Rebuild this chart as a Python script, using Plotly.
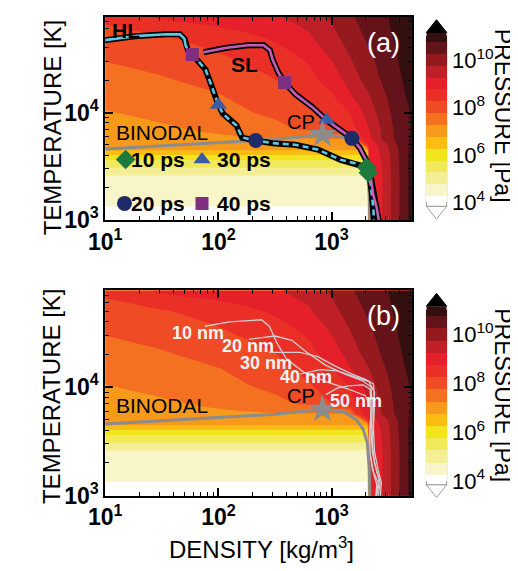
import numpy as np
import plotly.graph_objects as go

W, H = 518, 571
FONT = "Liberation Sans, Arial, Helvetica, sans-serif"

# ---------------- pressure field (log10 P [Pa]) ----------------
LOG_RHO_GRID = [1.0, 1.5, 2.0, 2.5, 2.8, 3.0, 3.15, 3.25, 3.315, 3.335, 3.45, 3.58, 3.71]
LOG_T_GRID = [3.0, 3.126, 3.414, 3.486, 3.559, 3.604, 3.649, 3.70, 3.75, 3.85,
              4.0, 4.15, 4.3, 4.5, 4.7, 4.89]
LOG_P = [
    [4.00, 4.00, 4.00, 4.00, 4.00, 4.00, 4.00, 4.00, 4.00, 8.80, 9.25, 10.12, 10.94],
    [4.25, 4.25, 4.25, 4.25, 4.25, 4.25, 4.25, 4.25, 4.25, 8.80, 9.25, 10.12, 10.94],
    [4.75, 4.75, 4.75, 4.75, 4.75, 4.75, 4.75, 4.75, 4.75, 8.80, 9.25, 10.12, 10.94],
    [5.25, 5.25, 5.25, 5.25, 5.25, 5.25, 5.25, 5.25, 5.25, 8.80, 9.27, 10.14, 10.94],
    [5.75, 5.75, 5.75, 5.75, 5.75, 5.75, 5.75, 5.75, 5.75, 8.82, 9.30, 10.16, 10.94],
    [6.25, 6.25, 6.25, 6.25, 6.25, 6.25, 6.25, 6.25, 6.25, 8.84, 9.33, 10.18, 10.92],
    [6.75, 6.75, 6.75, 6.75, 6.75, 6.75, 6.75, 6.75, 6.75, 8.85, 9.38, 10.20, 10.90],
    [6.90, 6.98, 7.00, 7.00, 7.00, 7.00, 7.00, 7.00, 8.60, 8.90, 9.50, 10.25, 10.88],
    [6.95, 7.05, 7.15, 7.20, 7.20, 7.20, 7.20, 8.60, 8.97, 9.10, 9.80, 10.35, 10.85],
    [7.06, 7.18, 7.35, 7.62, 7.85, 8.23, 8.57, 8.85, 9.18, 9.28, 9.84, 10.40, 10.80],
    [7.22, 7.38, 7.58, 7.85, 8.18, 8.48, 8.73, 9.12, 9.41, 9.50, 10.00, 10.46, 10.80],
    [7.39, 7.55, 7.71, 8.08, 8.39, 8.68, 9.13, 9.47, 9.67, 9.73, 10.14, 10.54, 10.90],
    [7.56, 7.69, 7.93, 8.24, 8.60, 8.96, 9.40, 9.72, 9.89, 9.95, 10.30, 10.64, 10.95],
    [7.78, 7.97, 8.17, 8.51, 8.82, 9.28, 9.69, 9.95, 10.11, 10.16, 10.44, 10.74, 11.00],
    [8.09, 8.21, 8.47, 8.83, 9.19, 9.59, 9.94, 10.18, 10.31, 10.36, 10.56, 10.83, 11.10],
    [8.35, 8.84, 9.02, 9.19, 9.46, 9.82, 10.16, 10.34, 10.45, 10.48, 10.66, 10.90, 11.17],
]

# band colours, centred on log10 P = 4.0, 4.5, ..., 11.0
BAND_COLORS = ["#ffffff", "#f8f5c8", "#f4ef94", "#f1e95a", "#f2e41d", "#fbbd14",
               "#f79a1c", "#f37121", "#ef4b24", "#ea2f27", "#e5202a", "#bf1f26",
               "#951a1e", "#64131a", "#33100f"]
CBAR_TICKS = [4, 6, 8, 10]
CBAR_TEXT = ["10<sup>4</sup>", "10<sup>6</sup>", "10<sup>8</sup>", "10<sup>10</sup>"]

X_TICKS = [1, 2, 3]
X_TEXT = ["10<sup>1</sup>", "10<sup>2</sup>", "10<sup>3</sup>"]
Y_TICKS = [3, 4]
Y_TEXT = ["10<sup>3</sup>", "10<sup>4</sup>"]

# ---------------- panel (a) trajectories (log10 density, log10 temperature) ----------------
HL_SOLID_X = [0.98, 1.26, 1.54, 1.66, 1.70, 1.71, 1.73, 1.77]
HL_SOLID_Y = [4.67, 4.71, 4.727, 4.727, 4.685, 4.625, 4.58, 4.54]
HL_DASH_X = [1.77, 1.83, 1.886, 1.93, 1.97, 2.0, 2.04, 2.10, 2.16, 2.185, 2.21, 2.33,
             2.48, 2.68, 2.88, 3.08, 3.20, 3.28, 3.31, 3.34, 3.355, 3.37, 3.375]
HL_DASH_Y = [4.54, 4.47, 4.40, 4.275, 4.155, 4.07, 3.99, 3.93, 3.88, 3.82, 3.767, 3.74,
             3.715, 3.70, 3.655, 3.56, 3.53, 3.50, 3.48, 3.38, 3.26, 3.11, 2.98]
SL_X = [1.87, 2.06, 2.26, 2.40, 2.455, 2.48, 2.53, 2.585, 2.68, 2.83, 2.955, 3.08,
        3.18, 3.25, 3.31, 3.34, 3.37, 3.40, 3.42]
SL_Y = [4.56, 4.60, 4.625, 4.625, 4.58, 4.49, 4.37, 4.28, 4.17, 4.05, 3.93, 3.84,
        3.76, 3.67, 3.55, 3.44, 3.23, 3.11, 2.98]
BINODAL_X = [1.0, 1.5, 2.0, 2.5, 2.92, 3.11, 3.22, 3.28, 3.316, 3.333, 3.34]
BINODAL_Y = [3.66, 3.69, 3.715, 3.75, 3.795, 3.77, 3.70, 3.61, 3.49, 3.25, 2.98]
CP_X, CP_Y = [2.92], [3.795]

SQ_X, SQ_Y = [1.77, 2.585], [4.54, 4.28]        # 40 ps
TRI_X, TRI_Y = [2.0, 2.955], [4.07, 3.93]       # 30 ps
CIR_X, CIR_Y = [2.33, 3.18], [3.74, 3.76]       # 20 ps
DIA_X, DIA_Y = [3.31, 3.325], [3.49, 3.44]      # 10 ps

# ---------------- panel (b) trajectories ----------------
NM_LINES = {
    "10 nm": ([1.88, 2.10, 2.38, 2.45, 2.52, 2.60, 2.75, 2.95, 3.15, 3.30, 3.35, 3.34, 3.33, 3.36, 3.40, 3.39],
              [4.56, 4.60, 4.62, 4.56, 4.40, 4.26, 4.14, 4.05, 3.98, 3.92, 3.80, 3.62, 3.45, 3.25, 3.10, 2.98]),
    "20 nm": ([2.27, 2.50, 2.65, 2.78, 2.95, 3.12, 3.27, 3.35, 3.36, 3.35, 3.36, 3.40, 3.43, 3.41],
              [4.44, 4.47, 4.43, 4.32, 4.20, 4.12, 4.06, 4.00, 3.80, 3.60, 3.40, 3.22, 3.12, 2.98]),
    "30 nm": ([2.45, 2.72, 2.88, 3.02, 3.18, 3.30, 3.37, 3.38, 3.37, 3.38, 3.42, 3.44, 3.43],
              [4.32, 4.32, 4.28, 4.20, 4.12, 4.07, 4.03, 3.85, 3.62, 3.40, 3.20, 3.12, 2.98]),
    "40 nm": ([2.72, 2.90, 3.05, 3.20, 3.33, 3.38, 3.37, 3.36, 3.38, 3.42, 3.40, 3.40],
              [4.12, 4.16, 4.15, 4.10, 4.05, 3.95, 3.70, 3.50, 3.30, 3.15, 3.05, 2.98]),
    "50 nm": ([2.95, 3.05, 3.15, 3.28, 3.34, 3.35, 3.34, 3.34, 3.37, 3.42, 3.39],
              [3.93, 3.99, 4.01, 4.02, 3.98, 3.80, 3.60, 3.40, 3.22, 3.10, 2.98]),
}
NM_LABEL_POS = {"10 nm": (1.82, 4.50), "20 nm": (2.265, 4.375), "30 nm": (2.42, 4.22),
                "40 nm": (2.77, 4.09), "50 nm": (3.22, 3.87)}

X_RANGE = [1.0, 3.71]
Y_RANGE = [3.0, 4.89]


def px(x):
    return x / W


def py(y):
    return 1 - y / H


colorscale = [[i / (len(BAND_COLORS) - 1), c] for i, c in enumerate(BAND_COLORS)]

fig = go.Figure()

# colour bar geometry (pixels): full band stack top/bottom; built-in bar spans band centres 4..11
CB_X0, CB_X1 = 415, 436
CB_A = (25, 203)
CB_B = (305, 488)


def add_field(xa, ya, cb):
    top, bot = cb
    band = (bot - top) / 15.0
    inner_top, inner_bot = top + band / 2, bot - band / 2
    fig.add_trace(go.Contour(
        x=LOG_RHO_GRID, y=LOG_T_GRID, z=LOG_P, xaxis=xa, yaxis=ya,
        colorscale=colorscale,
        contours=dict(start=4.25, end=10.75, size=0.5, coloring="fill", showlines=False),
        line=dict(width=0),
        hoverinfo="skip",
        colorbar=dict(x=px(CB_X0), xanchor="left", y=py((inner_top + inner_bot) / 2), yanchor="middle",
                      len=inner_bot - inner_top, lenmode="pixels", thickness=CB_X1 - CB_X0,
                      thicknessmode="pixels", xpad=0, ypad=0, outlinewidth=0,
                      tickvals=CBAR_TICKS, ticktext=CBAR_TEXT, ticks="",
                      tickfont=dict(family=FONT, size=22, color="black")),
    ))


add_field("x", "y", CB_A)
add_field("x2", "y2", CB_B)

# ---- panel (a) overlays
fig.add_trace(go.Scatter(x=BINODAL_X, y=BINODAL_Y, mode="lines", xaxis="x", yaxis="y",
                         line=dict(color="#8c8c8c", width=3), hoverinfo="skip", showlegend=False))
for xs, ys in [(HL_SOLID_X, HL_SOLID_Y), (HL_DASH_X, HL_DASH_Y), (SL_X, SL_Y)]:
    fig.add_trace(go.Scatter(x=xs, y=ys, mode="lines", xaxis="x", yaxis="y",
                             line=dict(color="black", width=6), hoverinfo="skip", showlegend=False))
fig.add_trace(go.Scatter(x=HL_SOLID_X, y=HL_SOLID_Y, mode="lines", xaxis="x", yaxis="y",
                         line=dict(color="#5ec8e0", width=2.6), hoverinfo="skip", showlegend=False))
fig.add_trace(go.Scatter(x=HL_DASH_X, y=HL_DASH_Y, mode="lines", xaxis="x", yaxis="y",
                         line=dict(color="#5ec8e0", width=2.6, dash="6px,4px"),
                         hoverinfo="skip", showlegend=False))
fig.add_trace(go.Scatter(x=SL_X, y=SL_Y, mode="lines", xaxis="x", yaxis="y",
                         line=dict(color="#c45cb9", width=2.6), hoverinfo="skip", showlegend=False))

MARK = dict(square=("#7e2f82", 13), triangle=("#3a5ba8", 15), circle=("#1f2a6b", 15),
            diamond=("#1b7a3c", 15))
for sym, xs, ys in [("square", SQ_X, SQ_Y), ("triangle-up", TRI_X, TRI_Y),
                    ("circle", CIR_X, CIR_Y), ("diamond", DIA_X, DIA_Y)]:
    col, size = MARK[sym.split("-")[0]]
    fig.add_trace(go.Scatter(x=xs, y=ys, mode="markers", xaxis="x", yaxis="y",
                             marker=dict(symbol=sym, color=col, size=size, line=dict(width=0)),
                             hoverinfo="skip", showlegend=False))
fig.add_trace(go.Scatter(x=CP_X, y=CP_Y, mode="markers", xaxis="x", yaxis="y",
                         marker=dict(symbol="star", color="#8c8c8c", size=21, line=dict(width=0)),
                         hoverinfo="skip", showlegend=False))

# legend markers inside panel (a)
LEG_X = [1.18, 1.855, 1.17, 1.855]
LEG_Y = [3.564, 3.564, 3.155, 3.155]
LEG_SYM = ["diamond", "triangle-up", "circle", "square"]
LEG_LABEL = ["10 ps", "30 ps", "20 ps", "40 ps"]
for lxv, lyv, sym in zip(LEG_X, LEG_Y, LEG_SYM):
    col, size = MARK[sym.split("-")[0]]
    fig.add_trace(go.Scatter(x=[lxv], y=[lyv], mode="markers", xaxis="x", yaxis="y",
                             marker=dict(symbol=sym, color=col, size=size, line=dict(width=0)),
                             hoverinfo="skip", showlegend=False))

# ---- panel (b) overlays
for name, (xs, ys) in NM_LINES.items():
    fig.add_trace(go.Scatter(x=xs, y=ys, mode="lines", xaxis="x2", yaxis="y2",
                             line=dict(color="#cfcfcf", width=1.3), hoverinfo="skip", showlegend=False))
fig.add_trace(go.Scatter(x=BINODAL_X, y=BINODAL_Y, mode="lines", xaxis="x2", yaxis="y2",
                         line=dict(color="#8c8c8c", width=3), hoverinfo="skip", showlegend=False))
fig.add_trace(go.Scatter(x=CP_X, y=CP_Y, mode="markers", xaxis="x2", yaxis="y2",
                         marker=dict(symbol="star", color="#8c8c8c", size=21, line=dict(width=0)),
                         hoverinfo="skip", showlegend=False))

# ---------------- axes ----------------
X_MINOR = [float(np.log10(m * 10 ** e)) for e in (1, 2, 3) for m in range(2, 10) if m * 10 ** e <= 5100]
Y_MINOR = [float(np.log10(m * 10 ** e)) for e in (3, 4) for m in range(2, 10) if m * 10 ** e <= 77000]


def xaxis(anchor):
    return dict(domain=[px(83), px(400)], range=X_RANGE, anchor=anchor,
                tickmode="array", tickvals=X_TICKS, ticktext=X_TEXT,
                ticks="inside", ticklen=8, tickwidth=1.5, tickcolor="black",
                showline=True, linecolor="black", linewidth=2, mirror="allticks",
                showgrid=False, zeroline=False,
                tickfont=dict(family=FONT, size=23, color="black", weight="bold"),
                minor=dict(tickmode="array", tickvals=X_MINOR, ticks="inside", ticklen=4,
                           tickwidth=1, tickcolor="black", showgrid=False))


def yaxis(dom, anchor):
    return dict(domain=dom, range=Y_RANGE, anchor=anchor,
                tickmode="array", tickvals=Y_TICKS, ticktext=Y_TEXT,
                ticks="inside", ticklen=8, tickwidth=1.5, tickcolor="black",
                showline=True, linecolor="black", linewidth=2, mirror="allticks",
                showgrid=False, zeroline=False,
                tickfont=dict(family=FONT, size=23, color="black", weight="bold"),
                minor=dict(tickmode="array", tickvals=Y_MINOR, ticks="inside", ticklen=4,
                           tickwidth=1, tickcolor="black", showgrid=False))


# ---------------- text ----------------
ann = []


def txt(x, y, s, xref, yref, size, color="black", bold=False, angle=0, xanchor="center"):
    ann.append(dict(x=x, y=y, xref=xref, yref=yref, text=s, showarrow=False, textangle=angle,
                    xanchor=xanchor, yanchor="middle",
                    font=dict(family=FONT, size=size, color=color, weight="bold" if bold else "normal")))


txt(1.18, 4.76, "HL", "x", "y", 21, bold=True)
txt(2.23, 4.445, "SL", "x", "y", 21, bold=True)
txt(2.73, 3.91, "CP", "x", "y", 20)
txt(1.50, 3.81, "BINODAL", "x", "y", 21)
txt(3.46, 4.65, "(a)", "x", "y", 27, color="white")
for (lxv, lyv), lab in zip([(1.214, 3.564), (1.974, 3.564), (1.214, 3.155), (1.974, 3.155)], LEG_LABEL):
    txt(lxv, lyv, lab, "x", "y", 21, bold=True, xanchor="left")

txt(2.73, 3.915, "CP", "x2", "y2", 20)
txt(1.50, 3.83, "BINODAL", "x2", "y2", 21)
txt(3.46, 4.65, "(b)", "x2", "y2", 27, color="white")
for name, (lxv, lyv) in NM_LABEL_POS.items():
    txt(lxv, lyv, name, "x2", "y2", 18, color="#f2f2f2", bold=True)

txt(px(28), py(122), "TEMPERATURE [K]", "paper", "paper", 24, angle=-90)
txt(px(28), py(397), "TEMPERATURE [K]", "paper", "paper", 24, angle=-90)
txt(px(245), py(553), "DENSITY [kg/m<sup>3</sup>]", "paper", "paper", 24)
txt(px(494), py(110), "PRESSURE [Pa]", "paper", "paper", 23, angle=90)
txt(px(494), py(396), "PRESSURE [Pa]", "paper", "paper", 23, angle=90)

# colour-bar end pieces: outer halves of the end bands and the triangular extensions
shapes = []


def rect(x0, x1, y0, y1, fill):
    shapes.append(dict(type="rect", xref="paper", yref="paper", x0=px(x0), x1=px(x1),
                       y0=py(y1), y1=py(y0), fillcolor=fill, line=dict(width=0), layer="above"))


def tri(x0, x1, ybase, ytip, fill, line):
    xm = (x0 + x1) / 2
    shapes.append(dict(type="path", xref="paper", yref="paper",
                       path=f"M {px(x0)} {py(ybase)} L {px(x1)} {py(ybase)} L {px(xm)} {py(ytip)} Z",
                       fillcolor=fill, line=dict(color=line, width=1), layer="above"))


for top, bot in (CB_A, CB_B):
    band = (bot - top) / 15.0
    rect(CB_X0, CB_X1, top, top + band / 2 + 0.5, BAND_COLORS[-1])
    rect(CB_X0, CB_X1, bot - band / 2 - 0.5, bot, BAND_COLORS[0])
    shapes.append(dict(type="rect", xref="paper", yref="paper", x0=px(CB_X0), x1=px(CB_X1),
                       y0=py(bot), y1=py(top), line=dict(color="#9a9a9a", width=1),
                       fillcolor="rgba(0,0,0,0)", layer="above"))
    tri(CB_X0, CB_X1, top, top - 13, "black", "black")
    tri(CB_X0, CB_X1, bot, bot + 13, "white", "#a0a0a0")

fig.update_layout(
    width=W, height=H, autosize=False,
    margin=dict(l=0, r=0, t=0, b=0),
    paper_bgcolor="white", plot_bgcolor="white",
    showlegend=False,
    xaxis=xaxis("y"),
    yaxis=yaxis([py(217), py(9)], "x"),
    xaxis2=xaxis("y2"),
    yaxis2=yaxis([py(499), py(289)], "x2"),
    annotations=ann,
    shapes=shapes,
    font=dict(family=FONT),
)

fig.write_html("out.html")
